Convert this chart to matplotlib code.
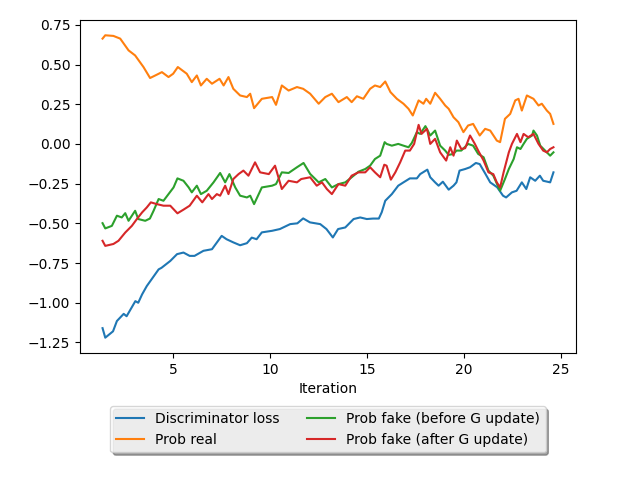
import matplotlib
matplotlib.use("Agg")
import matplotlib.pyplot as plt

# Discriminator loss
x_loss = [1.36, 1.5, 1.9, 2.1, 2.45, 2.6, 3.05, 3.2, 3.4, 3.64, 4.25, 4.4, 4.85, 5.2, 5.53,
          5.85, 6.1, 6.56, 7.0, 7.5, 7.75, 8.1, 8.45, 8.8, 9.05, 9.3, 9.57, 10.1, 10.5, 11.03,
          11.4, 11.7, 12.05, 12.58, 12.9, 13.23, 13.5, 13.87, 14.3, 14.64, 14.98, 15.3, 15.6,
          15.75, 15.93, 16.27, 16.6, 16.87, 17.2, 17.56, 17.73, 18.1, 18.25, 18.5, 18.68, 18.9,
          19.2, 19.45, 19.6, 19.76, 20.05, 20.3, 20.6, 20.8, 21.1, 21.34, 21.7, 22.0, 22.16,
          22.46, 22.7, 22.97, 23.2, 23.4, 23.66, 23.9, 24.07, 24.43, 24.6]
y_loss = [-1.16, -1.22, -1.18, -1.115, -1.07, -1.085, -0.99, -1.0, -0.947, -0.895, -0.79, -0.78,
          -0.737, -0.694, -0.684, -0.705, -0.705, -0.673, -0.663, -0.579, -0.6, -0.62, -0.638,
          -0.625, -0.59, -0.6, -0.557, -0.547, -0.536, -0.505, -0.5, -0.469, -0.494, -0.505,
          -0.536, -0.589, -0.536, -0.526, -0.473, -0.463, -0.473, -0.47, -0.47, -0.43, -0.358,
          -0.316, -0.263, -0.242, -0.217, -0.217, -0.19, -0.162, -0.21, -0.242, -0.263, -0.238,
          -0.288, -0.263, -0.242, -0.168, -0.158, -0.147, -0.12, -0.127, -0.19, -0.242, -0.273,
          -0.326, -0.337, -0.305, -0.295, -0.242, -0.284, -0.21, -0.232, -0.2, -0.232, -0.242,
          -0.179]

# Prob real
x_real = [1.36, 1.5, 1.92, 2.27, 2.7, 3.04, 3.47, 3.81, 4.16, 4.42, 4.76, 5.0, 5.24, 5.7, 5.96,
          6.22, 6.43, 6.73, 7.0, 7.39, 7.6, 7.85, 8.1, 8.45, 8.8, 8.97, 9.17, 9.57, 10.1, 10.3,
          10.6, 10.95, 11.38, 11.7, 12.06, 12.5, 12.84, 13.18, 13.52, 13.95, 14.2, 14.47, 14.8,
          15.15, 15.4, 15.67, 15.93, 16.2, 16.53, 16.87, 17.13, 17.35, 17.65, 17.9, 18.04,
          18.25, 18.5, 18.76, 19.02, 19.2, 19.45, 19.7, 19.96, 20.2, 20.46, 20.8, 21.08, 21.34,
          21.68, 21.85, 22.1, 22.37, 22.63, 22.8, 22.97, 23.23, 23.57, 23.83, 24.0, 24.26,
          24.43, 24.6]
y_real = [0.663, 0.684, 0.68, 0.663, 0.589, 0.557, 0.484, 0.415, 0.436, 0.452, 0.421, 0.442,
          0.484, 0.442, 0.389, 0.431, 0.368, 0.41, 0.379, 0.41, 0.368, 0.421, 0.347, 0.305,
          0.295, 0.316, 0.225, 0.284, 0.295, 0.246, 0.368, 0.336, 0.358, 0.347, 0.316, 0.253,
          0.295, 0.316, 0.263, 0.295, 0.263, 0.3, 0.284, 0.347, 0.368, 0.358, 0.393, 0.326,
          0.284, 0.253, 0.221, 0.179, 0.274, 0.253, 0.284, 0.253, 0.322, 0.284, 0.242, 0.221,
          0.168, 0.137, 0.074, 0.116, 0.126, 0.053, 0.095, 0.084, 0.021, 0.011, 0.158, 0.189,
          0.274, 0.284, 0.21, 0.305, 0.284, 0.242, 0.253, 0.21, 0.189, 0.126]

# Prob fake (before G update)
x_before = [1.36, 1.5, 1.84, 2.1, 2.35, 2.53, 2.7, 3.04, 3.2, 3.56, 3.8, 3.99, 4.25, 4.5, 4.76,
            5.02, 5.22, 5.53, 5.8, 5.96, 6.22, 6.43, 6.73, 7.08, 7.42, 7.68, 7.9, 8.2, 8.45,
            8.8, 8.97, 9.17, 9.57, 10.1, 10.3, 10.6, 10.95, 11.38, 11.72, 12.06, 12.5, 12.84,
            13.18, 13.52, 13.87, 14.2, 14.55, 14.9, 15.15, 15.4, 15.67, 15.9, 16.0, 16.27,
            16.6, 16.87, 17.13, 17.3, 17.56, 17.73, 18.0, 18.25, 18.5, 18.76, 19.02, 19.2,
            19.45, 19.6, 19.85, 20.2, 20.46, 20.72, 21.0, 21.25, 21.5, 21.77, 21.85, 22.1, 22.3,
            22.55, 22.72, 22.9, 23.06, 23.23, 23.5, 23.57, 23.75, 23.92, 24.17, 24.43, 24.6]
y_before = [-0.499, -0.532, -0.516, -0.452, -0.463, -0.436, -0.484, -0.421, -0.473, -0.484,
            -0.47, -0.421, -0.347, -0.358, -0.316, -0.274, -0.217, -0.232, -0.274, -0.305,
            -0.263, -0.316, -0.295, -0.242, -0.183, -0.242, -0.19, -0.274, -0.326, -0.337,
            -0.326, -0.379, -0.274, -0.263, -0.253, -0.179, -0.183, -0.147, -0.12, -0.189,
            -0.242, -0.221, -0.274, -0.253, -0.242, -0.21, -0.175, -0.158, -0.137, -0.095,
            -0.074, 0.011, 0.0, -0.011, 0.0, -0.011, -0.021, 0.006, 0.074, 0.063, 0.112, 0.053,
            0.084, -0.011, -0.042, -0.069, -0.063, -0.042, -0.042, 0.0, -0.011, -0.063, -0.084,
            -0.168, -0.2, -0.274, -0.295, -0.221, -0.158, -0.095, -0.021, -0.032, 0.0, 0.032,
            0.053, 0.084, 0.053, -0.011, -0.042, -0.074, -0.053]

# Prob fake (after G update)
x_after = [1.36, 1.5, 1.92, 2.18, 2.53, 2.87, 3.13, 3.4, 3.64, 3.85, 4.16, 4.5, 4.85, 5.22,
           5.53, 5.85, 6.22, 6.5, 6.82, 7.0, 7.25, 7.42, 7.68, 7.85, 8.1, 8.37, 8.62, 8.88,
           9.22, 9.48, 9.93, 10.25, 10.6, 10.95, 11.38, 11.6, 12.06, 12.4, 12.67, 12.92, 13.18,
           13.52, 13.87, 14.2, 14.55, 14.9, 15.15, 15.4, 15.67, 15.88, 16.0, 16.22, 16.45,
           16.7, 16.96, 17.2, 17.42, 17.65, 17.8, 18.08, 18.25, 18.5, 18.76, 19.07, 19.28,
           19.45, 19.62, 19.85, 20.05, 20.3, 20.55, 20.72, 21.0, 21.25, 21.5, 21.68, 21.85,
           22.03, 22.3, 22.46, 22.72, 22.9, 23.06, 23.3, 23.57, 23.83, 24.07, 24.26, 24.43, 24.6]
y_after = [-0.61, -0.642, -0.63, -0.61, -0.558, -0.516, -0.473, -0.431, -0.4, -0.368, -0.379,
           -0.389, -0.389, -0.437, -0.414, -0.389, -0.326, -0.368, -0.316, -0.347, -0.316,
           -0.326, -0.263, -0.316, -0.221, -0.19, -0.168, -0.2, -0.116, -0.179, -0.19, -0.137,
           -0.284, -0.232, -0.242, -0.221, -0.21, -0.263, -0.242, -0.284, -0.316, -0.253,
           -0.263, -0.2, -0.179, -0.179, -0.147, -0.179, -0.21, -0.131, -0.137, -0.225, -0.179,
           -0.116, -0.042, -0.042, 0.0, 0.12, 0.063, 0.095, 0.0, 0.032, -0.053, -0.105, -0.021,
           -0.074, 0.021, -0.032, -0.027, 0.053, 0.0, -0.042, -0.105, -0.179, -0.19, -0.242,
           -0.274, -0.179, -0.053, 0.0, 0.063, 0.011, 0.063, 0.042, 0.063, 0.0, -0.042, -0.053,
           -0.032, -0.021]

labels = ["Discriminator loss", "Prob real", "Prob fake (before G update)",
          "Prob fake (after G update)"]

fig, ax = plt.subplots(figsize=(6.4, 4.8), dpi=100)
fig.subplots_adjust(left=0.125, right=0.9, top=0.958, bottom=0.265)
ax.plot(x_loss, y_loss, color="#1f77b4", label=labels[0])
ax.plot(x_real, y_real, color="#ff7f0e", label=labels[1])
ax.plot(x_before, y_before, color="#2ca02c", label=labels[2])
ax.plot(x_after, y_after, color="#d62728", label=labels[3])
ax.set_xlabel("Iteration")
ax.set_xticks([5, 10, 15, 20, 25])
ax.set_yticks([-1.25, -1.0, -0.75, -0.5, -0.25, 0.0, 0.25, 0.5, 0.75])
ax.legend(loc="upper center", bbox_to_anchor=(0.5, -0.14), ncol=2,
          fancybox=True, shadow=True, framealpha=0.8)
fig.savefig("out.png", dpi=100)
